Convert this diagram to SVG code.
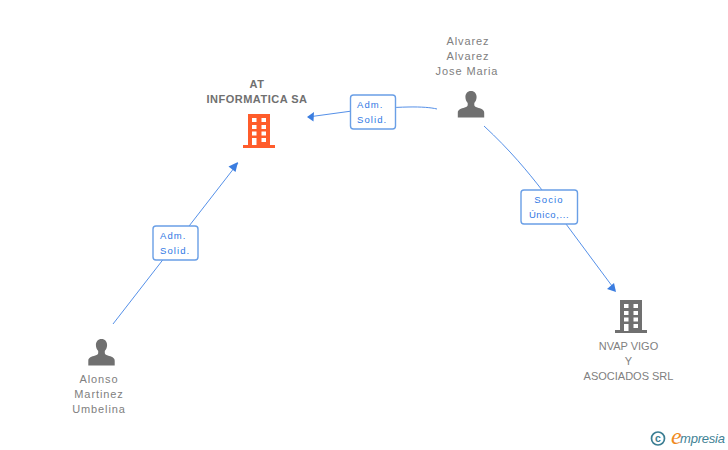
<svg xmlns="http://www.w3.org/2000/svg" width="728" height="450" viewBox="0 0 728 450">
<style>
text{font-family:"Liberation Sans",Arial,sans-serif}
.n{font-size:11px;fill:#808080;text-anchor:middle;letter-spacing:.9px}
.t{font-size:11px;fill:#808080;text-anchor:middle}
.b{font-size:11px;fill:#707070;text-anchor:middle;font-weight:bold;letter-spacing:.5px}
.l{font-size:9.500px;fill:#2f78e4;letter-spacing:1.100px}
.c{fill:none;stroke:#5590e8;stroke-width:1}
.box{fill:#fff;stroke:#6a9fe6;stroke-width:1.400}
.ah{fill:#3b7de0}
.p{fill:#707070}
.w{fill:#fff}
</style>
<defs>
<g id="person"><path d="M0 -14c3.600 0 5.600 2.700 5.600 6c0 2.500-1 4.600-2.300 5.900v2.100c0 1.300 1 1.900 3 2.600c3.600 1.200 6.900 2 6.900 5.200v4.700h-26.400v-4.700c0-3.200 3.300-4 6.900-5.200c2-.7 3-1.300 3-2.600v-2.100c-1.300-1.300-2.300-3.400-2.300-5.900c0-3.300 2-6 5.600-6z"/></g>
<g id="win"><rect x="4" y="4" width="4.500" height="4" class="w"/><rect x="13.500" y="4" width="4.500" height="4" class="w"/><rect x="4" y="11" width="4.500" height="4" class="w"/><rect x="13.500" y="11" width="4.500" height="4" class="w"/><rect x="4" y="17.500" width="4.500" height="4" class="w"/><rect x="13.500" y="17.500" width="4.500" height="4" class="w"/><rect x="4" y="24" width="4.500" height="7" class="w"/><rect x="13.500" y="24" width="4.500" height="4" class="w"/></g>
</defs>
<g id="connectors">
<path class="c" d="M113 324L238 163"/><path class="ah" d="M238 162L228.500 166.500L235.500 172z"/>
<path class="c" d="M437 109C425 106 400 106 352 111L308 117"/><path class="ah" d="M307 117L314 112L313.500 121.500z"/>
<path class="c" d="M484 126C510 150 528 172 542 190L566 224L615 290"/><path class="ah" d="M616 292L607 289L614 283z"/>
</g>
<g id="label1"><rect class="box" x="153" y="226" width="45" height="34" rx="3"/><text class="l" x="160" y="239">Adm.</text><text class="l" x="160" y="254">Solid.</text></g>
<g id="label2"><rect class="box" x="350.500" y="95" width="45" height="34" rx="3"/><text class="l" x="357" y="108">Adm.</text><text class="l" x="357" y="123">Solid.</text></g>
<g id="label3"><rect class="box" x="521" y="190" width="56.500" height="34" rx="3"/><text class="l" x="549" y="203" text-anchor="middle">Socio</text><text class="l" x="549" y="218" text-anchor="middle" style="letter-spacing:.6px">Único,...</text></g>
<g id="node-at">
<text class="b" x="257" y="88">AT</text><text class="b" x="257" y="103">INFORMATICA SA</text>
<path fill="#ff5c2b" d="M248 114h22v31h5v3h-32v-3h5z"/>
<use href="#win" x="248" y="114"/>
</g>
<g id="node-alvarez" class="p">
<text class="n" x="468" y="45">Alvarez</text><text class="n" x="468" y="60">Alvarez</text><text class="n" x="467" y="75">Jose Maria</text>
<use href="#person" x="471" y="105"/>
</g>
<g id="node-alonso" class="p">
<text class="n" x="99" y="383">Alonso</text><text class="n" x="99" y="398">Martinez</text><text class="n" x="99" y="413">Umbelina</text>
<use href="#person" x="101.500" y="353"/>
</g>
<g id="node-nvap">
<path fill="#707070" d="M620 300h22v30h5v3h-32v-3h5z"/>
<use href="#win" x="620" y="300"/>
<text class="t" x="628.500" y="350">NVAP VIGO</text><text class="t" x="628.500" y="365">Y</text><text class="t" x="628.500" y="380">ASOCIADOS SRL</text>
</g>
<g id="logo">
<circle cx="658" cy="438.500" r="6.500" fill="none" stroke="#3a7d92" stroke-width="1.700"/>
<text x="658" y="442" font-size="10.500" font-weight="bold" fill="#3a7d92" text-anchor="middle">c</text>
<text x="671" y="444" font-size="24" font-style="italic" fill="#f08a1d" style="font-family:'Liberation Serif',serif">e</text>
<text x="680" y="443" font-size="13" font-style="italic" fill="#3f8295" textLength="45">mpresia</text>
</g>
</svg>
